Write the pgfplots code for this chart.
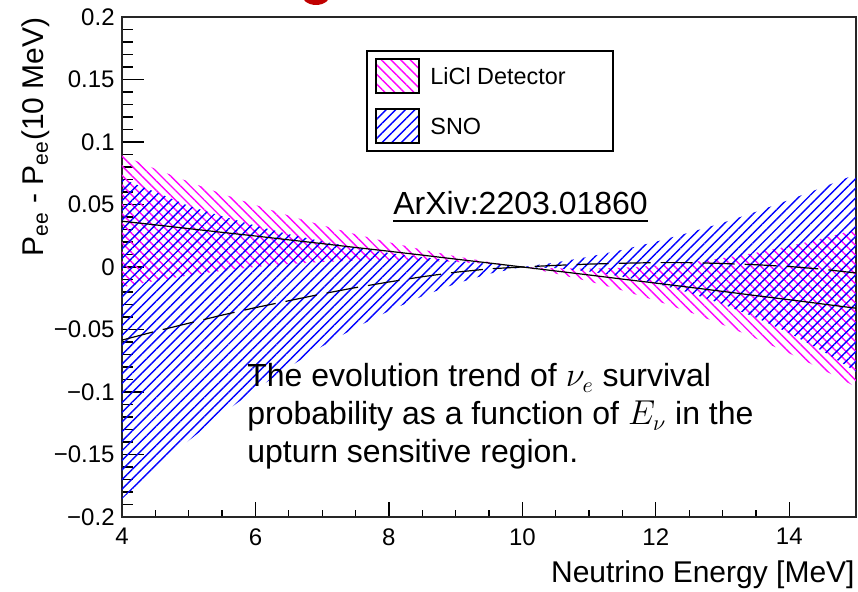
\documentclass[border=0pt]{standalone}
\usepackage{fontspec}
\setmainfont{Liberation Sans}
\usepackage{pgfplots}
\pgfplotsset{compat=1.18}
\usepackage{pgfplotstable}
\usepgfplotslibrary{fillbetween}
\usetikzlibrary{patterns.meta}
\definecolor{hmag}{RGB}{255,0,255}
\definecolor{hblue}{RGB}{0,0,255}
\definecolor{titlered}{RGB}{192,0,0}

\pgfplotstableread{
E lu ll su sl s d
4 0.0894 -0.0162 0.0705 -0.1855 0.0366 -0.0585
4.5 0.0785 -0.0111 0.0600 -0.1614 0.0337 -0.0515
5 0.0682 -0.0068 0.0489 -0.1389 0.0307 -0.0450
5.5 0.0585 -0.0031 0.0406 -0.1176 0.0277 -0.0385
6 0.0496 0.0000 0.0331 -0.0981 0.0248 -0.0325
6.5 0.0411 0.0023 0.0262 -0.0802 0.0217 -0.0270
7 0.0334 0.0040 0.0205 -0.0635 0.0187 -0.0215
7.5 0.0262 0.0050 0.0155 -0.0485 0.0156 -0.0165
8 0.0198 0.0054 0.0112 -0.0352 0.0126 -0.0120
8.5 0.0139 0.0051 0.0078 -0.0234 0.0095 -0.0078
9 0.0086 0.0040 0.0050 -0.0134 0.0063 -0.0042
9.5 0.0040 0.0024 0.0025 -0.0055 0.0032 -0.0015
10 0 0 0 0 0 0
10.5 -0.0011 -0.0053 0.0036 -0.0010 -0.0032 0.0013
11 -0.0013 -0.0115 0.0082 -0.0036 -0.0064 0.0023
11.5 -0.0006 -0.0188 0.0137 -0.0077 -0.0097 0.0030
12 0.0011 -0.0269 0.0202 -0.0132 -0.0129 0.0035
12.5 0.0036 -0.0360 0.0275 -0.0205 -0.0162 0.0035
13 0.0071 -0.0461 0.0353 -0.0297 -0.0195 0.0028
13.5 0.0114 -0.0572 0.0441 -0.0405 -0.0229 0.0018
14 0.0167 -0.0691 0.0537 -0.0529 -0.0262 0.0004
14.5 0.0229 -0.0821 0.0637 -0.0673 -0.0296 -0.0018
15 0.0300 -0.0960 0.0742 -0.0838 -0.0330 -0.0048
}\bands

\begin{document}
\begin{tikzpicture}
\begin{axis}[
  at={(0,0)}, anchor=south west,
  scale only axis, width=367pt, height=250pt,
  xmin=4, xmax=15, ymin=-0.2, ymax=0.2,
  xtick={4,6,8,10,12,14}, xticklabels={4,6,8,10,12,14},
  minor x tick num=3,
  ytick={-0.2,-0.15,-0.1,-0.05,0,0.05,0.1,0.15,0.2},
  yticklabels={−0.2,−0.15,−0.1,−0.05,0,0.05,0.1,0.15,0.2},
  minor y tick num=4,
  tick align=inside, xtick pos=left, ytick pos=left,
  xtick style={/pgfplots/major tick length=7.5pt,/pgfplots/minor tick length=3.5pt},
  ytick style={/pgfplots/major tick length=11pt,/pgfplots/minor tick length=5.5pt},
  tick style={black, line width=0.6pt},
  axis line style={black!85, line width=0.6pt},
  tick label style={font=\fontsize{12}{14}\selectfont, inner sep=0pt},
  xticklabel style={yshift=-5.5pt},
  yticklabel style={xshift=-3.5pt},
]
\addplot[draw=none, name path=LU, forget plot] table[x=E,y=lu]{\bands};
\addplot[draw=none, name path=LL, forget plot] table[x=E,y=ll]{\bands};
\addplot[draw=none, name path=SU, forget plot] table[x=E,y=su]{\bands};
\addplot[draw=none, name path=SL, forget plot] table[x=E,y=sl]{\bands};
\addplot[pattern={Lines[angle=-45,distance=3.4pt,line width=0.7pt]}, pattern color=hmag] fill between[of=LU and LL];
\addplot[pattern={Lines[angle=45,distance=3.4pt,line width=0.7pt]}, pattern color=hblue] fill between[of=SU and SL];
\addplot[black, line width=0.6pt] table[x=E,y=s]{\bands};
\addplot[black, line width=0.6pt, dash pattern=on 16pt off 5pt] table[x=E,y=d]{\bands};
\end{axis}
% y and x titles
\node[rotate=90, anchor=base east, inner sep=0pt, font=\fontsize{15}{18}\selectfont] at (-39.25pt,250pt) {P\textsubscript{ee} - P\textsubscript{ee}(10 MeV)};
\node[anchor=base east, inner sep=0pt, font=\fontsize{15}{18}\selectfont] at (366.5pt,-33pt) {Neutrino Energy [MeV]};
% legend
\draw[line width=0.6pt, fill=white] (122.5pt,183pt) rectangle (245.5pt,233pt);
\draw[line width=0.6pt, pattern={Lines[angle=-45,distance=3.4pt,line width=0.7pt]}, pattern color=hmag] (127pt,212pt) rectangle (148.5pt,229pt);
\draw[line width=0.6pt, pattern={Lines[angle=45,distance=3.4pt,line width=0.7pt]}, pattern color=hblue] (127pt,187pt) rectangle (148.5pt,204pt);
\node[anchor=west, inner sep=0pt, font=\fontsize{11.7}{14}\selectfont] at (154pt,220.5pt) {LiCl Detector};
\node[anchor=west, inner sep=0pt, font=\fontsize{11.7}{14}\selectfont] at (154pt,195.5pt) {SNO};
% arXiv
\node[anchor=base west, inner sep=0pt, font=\fontsize{16}{19}\selectfont] (arx) at (135.5pt,151pt) {ArXiv:2203.01860};
\draw[line width=0.7pt] ([yshift=-3pt]arx.base west) -- ([yshift=-3pt]arx.base east);
% annotation
\node[anchor=base west, inner sep=0pt, font=\fontsize{16}{19}\selectfont] at (62.5pt,65pt) {The evolution trend of $\nu_e$ survival};
\node[anchor=base west, inner sep=0pt, font=\fontsize{16}{19}\selectfont] at (62.5pt,46pt) {probability as a function of $E_\nu$ in the};
\node[anchor=base west, inner sep=0pt, font=\fontsize{16}{19}\selectfont] at (62.5pt,27pt) {upturn sensitive region.};
% fragment of slide title above
\fill[titlered] (97pt,262pt) ellipse (7.5pt and 6pt);
\pgfresetboundingbox
\useasboundingbox (-61pt,-37.5pt) rectangle (368pt,258.5pt);
\end{tikzpicture}
\end{document}
